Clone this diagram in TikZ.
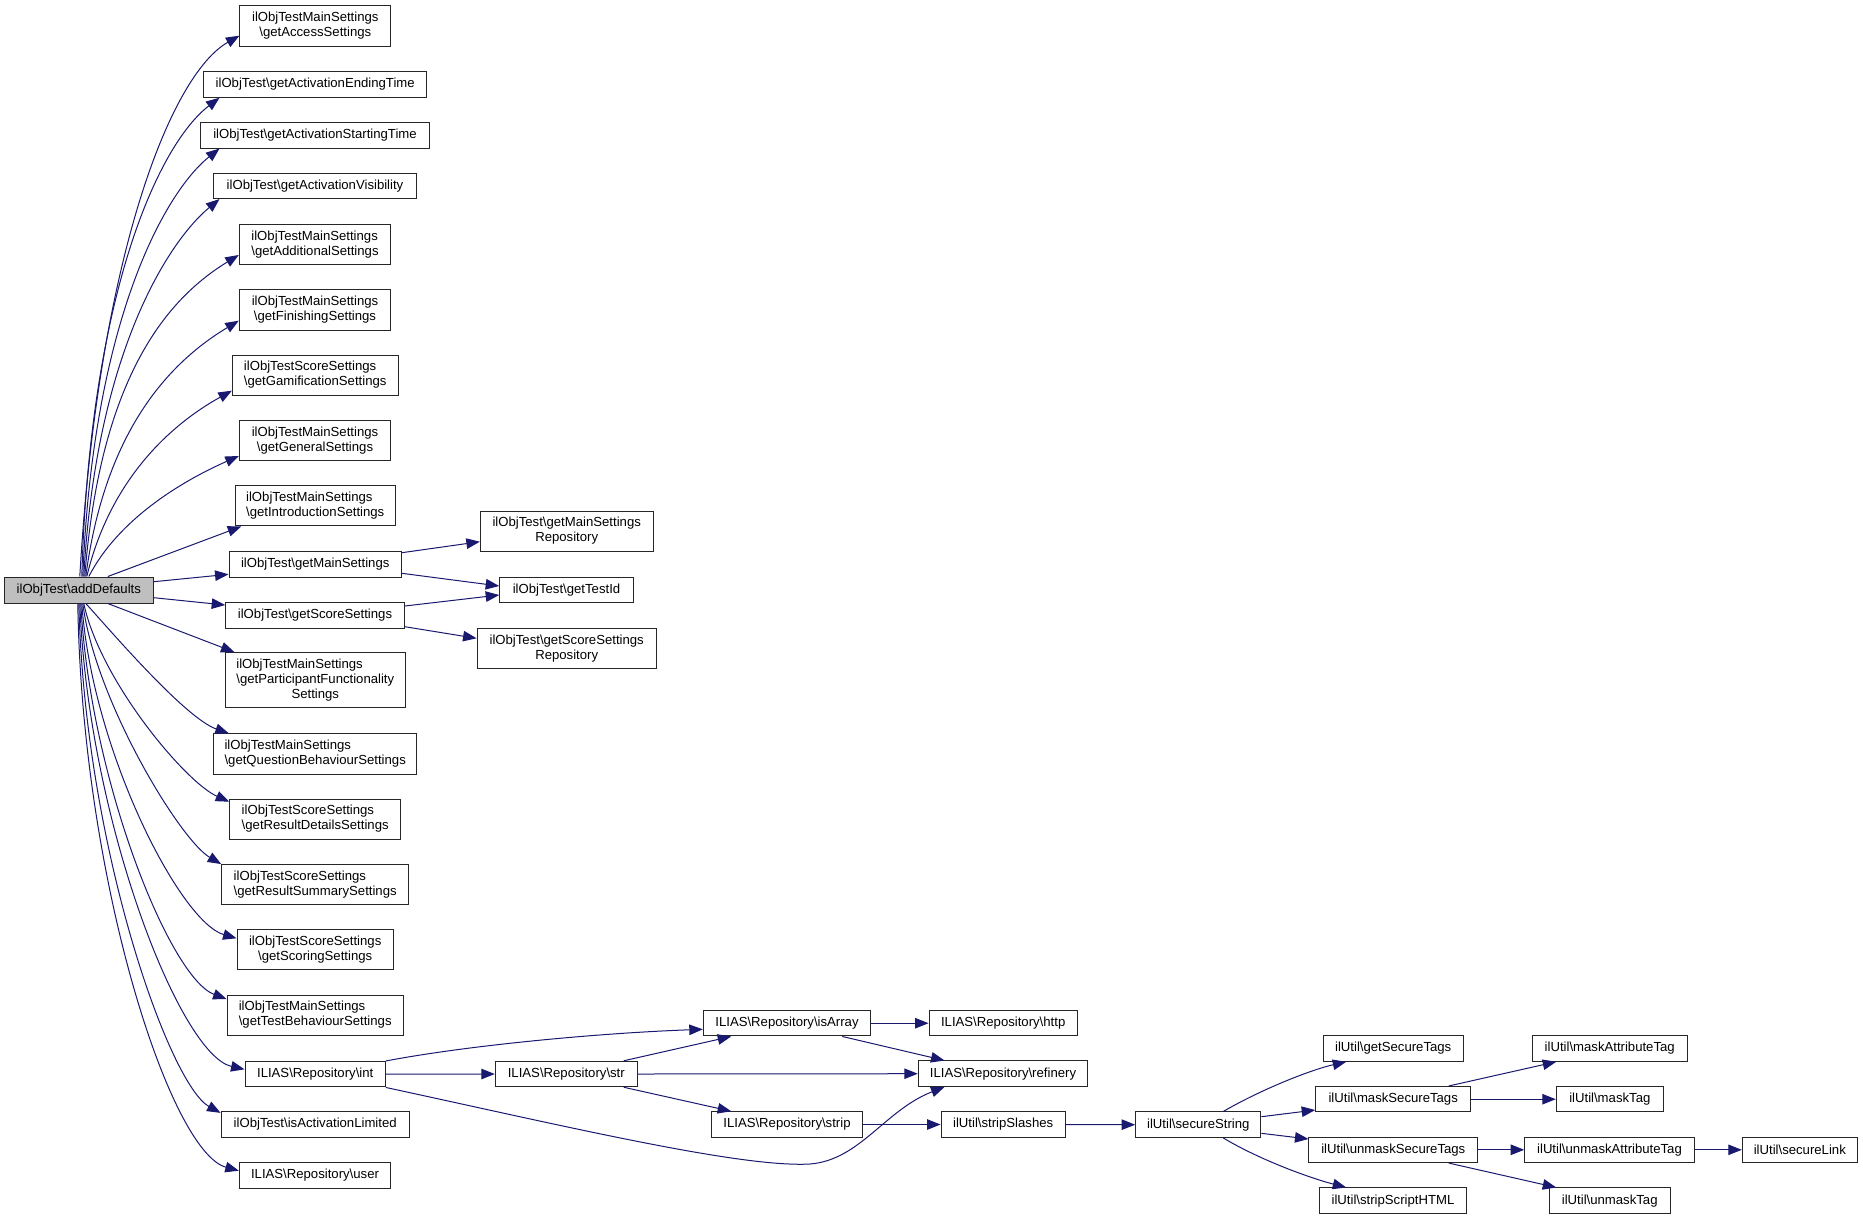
\documentclass[tikz,border=0pt]{standalone}
\usepackage{fontspec}
\setmainfont{Liberation Sans}
\usetikzlibrary{arrows.meta,calc}
\definecolor{mblue}{RGB}{25,25,112}
\definecolor{rootgray}{RGB}{191,191,191}
\newcommand{\bsl}{\textbackslash}
\newcommand{\fnt}{\fontsize{13.15}{15}\selectfont}
\newcommand{\lbltwo}[2]{\begin{tabular}{@{}l@{}}#1\\\multicolumn{1}{@{}c@{}}{#2}\end{tabular}}
\newcommand{\lblthree}[3]{\begin{tabular}{@{}l@{}}#1\\#2\\\multicolumn{1}{@{}c@{}}{#3}\end{tabular}}
\begin{document}
\begin{tikzpicture}[x=1pt,y=-1pt,
  box/.style={draw=black!85, line width=1pt, inner sep=0pt, fill=white, font=\fnt, minimum height=25.5},
  boxtwo/.style={box, minimum height=40.3},
  conn/.style={draw=mblue, line width=1pt, -{Triangle[length=13.5pt,width=10.5pt]}}]
\fill[white] (0,0) rectangle (1863,1219);
\useasboundingbox (0,0) rectangle (1863,1219);

% root
\node[box, fill=rootgray, minimum width=149, minimum height=26] (root) at (78.8,590) {ilObjTest\bsl addDefaults};

% column 1
\node[boxtwo, minimum width=150.7] (acc) at (315.3,26) {\lbltwo{ilObjTestMainSettings}{\bsl getAccessSettings}};
\node[box, minimum width=223] (endt) at (315.2,84.5) {ilObjTest\bsl getActivationEndingTime};
\node[box, minimum width=228.6] (start) at (315,135.3) {ilObjTest\bsl getActivationStartingTime};
\node[box, minimum width=203.4] (vis) at (315,185.8) {ilObjTest\bsl getActivationVisibility};
\node[boxtwo, minimum width=151.4] (add) at (315,244.7) {\lbltwo{ilObjTestMainSettings}{\bsl getAdditionalSettings}};
\node[boxtwo, minimum width=151.4] (fin) at (315,310) {\lbltwo{ilObjTestMainSettings}{\bsl getFinishingSettings}};
\node[boxtwo, minimum width=165.7] (gam) at (315.2,375.2) {\lbltwo{ilObjTestScoreSettings}{\bsl getGamificationSettings}};
\node[boxtwo, minimum width=151.4] (gen) at (315,440.5) {\lbltwo{ilObjTestMainSettings}{\bsl getGeneralSettings}};
\node[boxtwo, minimum width=160.3] (intro) at (315.2,505.8) {\lbltwo{ilObjTestMainSettings}{\bsl getIntroductionSettings}};
\node[box, minimum width=172.3] (mains) at (315.2,564.3) {ilObjTest\bsl getMainSettings};
\node[box, minimum width=178.6] (scores) at (315,615.5) {ilObjTest\bsl getScoreSettings};
\node[box, minimum width=180, minimum height=55.3] (part) at (315.3,680.3) {\lblthree{ilObjTestMainSettings}{\bsl getParticipantFunctionality}{Settings}};
\node[boxtwo, minimum width=203] (quest) at (315.2,754) {\lbltwo{ilObjTestMainSettings}{\bsl getQuestionBehaviourSettings}};
\node[boxtwo, minimum width=171] (rdet) at (315.2,819.3) {\lbltwo{ilObjTestScoreSettings}{\bsl getResultDetailsSettings}};
\node[boxtwo, minimum width=187] (rsum) at (315.2,884.7) {\lbltwo{ilObjTestScoreSettings}{\bsl getResultSummarySettings}};
\node[boxtwo, minimum width=156.3] (scor) at (315.2,949.8) {\lbltwo{ilObjTestScoreSettings}{\bsl getScoringSettings}};
\node[boxtwo, minimum width=176.3] (testb) at (315.2,1015.2) {\lbltwo{ilObjTestMainSettings}{\bsl getTestBehaviourSettings}};
\node[box, minimum width=140.3] (int) at (315.2,1074.2) {ILIAS\bsl Repository\bsl int};
\node[box, minimum width=188.3] (isal) at (315.2,1124.5) {ilObjTest\bsl isActivationLimited};
\node[box, minimum width=151.4] (user) at (315,1175.4) {ILIAS\bsl Repository\bsl user};

% column 2
\node[boxtwo, minimum width=172.7, minimum height=40] (msr) at (566.7,531) {\lbltwo{ilObjTest\bsl getMainSettings}{Repository}};
\node[box, minimum width=133.6] (tid) at (566.5,590) {ilObjTest\bsl getTestId};
\node[boxtwo, minimum width=179.3] (ssr) at (566.7,648.5) {\lbltwo{ilObjTest\bsl getScoreSettings}{Repository}};
\node[box, minimum width=142] (str) at (566.3,1074) {ILIAS\bsl Repository\bsl str};

% column 3
\node[box, minimum width=167.4] (isarr) at (787,1023.2) {ILIAS\bsl Repository\bsl isArray};
\node[box, minimum width=151.4] (strip) at (787,1124.5) {ILIAS\bsl Repository\bsl strip};

% column 4
\node[box, minimum width=148.3] (http) at (1003.2,1023.2) {ILIAS\bsl Repository\bsl http};
\node[box, minimum width=169.4] (ref) at (1003,1073.7) {ILIAS\bsl Repository\bsl refinery};
\node[box, minimum width=124.3] (sslash) at (1003.2,1124.5) {ilUtil\bsl stripSlashes};

% column 5
\node[box, minimum width=125.3] (sstr) at (1198.3,1124.7) {ilUtil\bsl secureString};

% column 6
\node[box, minimum width=140.3] (gst) at (1393.2,1048.5) {ilUtil\bsl getSecureTags};
\node[box, minimum width=155] (mst) at (1393.2,1099.2) {ilUtil\bsl maskSecureTags};
\node[box, minimum width=168.7] (umst) at (1393.3,1149.8) {ilUtil\bsl unmaskSecureTags};
\node[box, minimum width=147.4] (ssh) at (1393,1200.7) {ilUtil\bsl stripScriptHTML};

% column 7
\node[box, minimum width=155.3] (mat) at (1609.7,1048.5) {ilUtil\bsl maskAttributeTag};
\node[box, minimum width=107] (mtag) at (1609.8,1099.2) {ilUtil\bsl maskTag};
\node[box, minimum width=169.6] (umat) at (1609.5,1149.8) {ilUtil\bsl unmaskAttributeTag};
\node[box, minimum width=120.7] (umtag) at (1609.7,1200.7) {ilUtil\bsl unmaskTag};

% column 8
\node[box, minimum width=115] (slink) at (1799.8,1149.8) {ilUtil\bsl secureLink};

% edges from root (upwards)
\draw[conn] ([xshift=1]root.north) .. controls (98,260) and (170,75) .. ($(acc.west)+(0,9.7)$);
\draw[conn] ([xshift=3]root.north) .. controls (90,290) and (160,143) .. ($(endt.south west)+(16.3,0)$);
\draw[conn] ([xshift=4]root.north) .. controls (93,320) and (165,192) .. ($(start.south west)+(19.3,0)$);
\draw[conn] ([xshift=5]root.north) .. controls (96,350) and (170,240) .. ($(vis.south west)+(6.7,0)$);
\draw[conn] ([xshift=6]root.north) .. controls (100,380) and (165,300) .. ($(add.west)+(0,10.3)$);
\draw[conn] ([xshift=7]root.north) .. controls (105,430) and (170,362) .. ($(fin.west)+(0,10.7)$);
\draw[conn] ([xshift=8]root.north) .. controls (110,480) and (170,425) .. ($(gam.west)+(0,15.5)$);
\draw[conn] ([xshift=10]root.north) .. controls (118,520) and (180,482) .. ($(gen.west)+(0,15.5)$);
\draw[conn] ([xshift=29]root.north) -- ($(intro.south west)+(6.7,0)$);
\draw[conn] ($(root.east)+(0,-8.3)$) -- ($(mains.west)+(0,10)$);
\draw[conn] ($(root.east)+(0,7.7)$) -- ($(scores.west)+(0,-10.5)$);
% edges from root (downwards)
\draw[conn] ([xshift=29]root.south) -- ($(part.north west)+(9.7,0)$);
\draw[conn] ([xshift=7]root.south) .. controls (110,630) and (185,718) .. ($(quest.north west)+(15.6,0)$);
\draw[conn] ([xshift=5]root.south) .. controls (100,680) and (185,782) .. ($(rdet.west)+(0,-17.6)$);
\draw[conn] ([xshift=4]root.south) .. controls (95,700) and (180,840) .. (rsum.north west);
\draw[conn] ([xshift=3]root.south) .. controls (92,750) and (180,922) .. ($(scor.west)+(0,-11.5)$);
\draw[conn] ([xshift=2]root.south) .. controls (90,780) and (170,978) .. ($(testb.west)+(0,-16.2)$);
\draw[conn] ([xshift=1]root.south) .. controls (88,820) and (180,1055) .. ($(int.west)+(0,-4.9)$);
\draw[conn] (root.south) .. controls (85,850) and (170,1085) .. ($(isal.north west)+(0,1.6)$);
\draw[conn] ([xshift=-1]root.south) .. controls (82,880) and (170,1152) .. ($(user.west)+(0,-4.7)$);

% settings edges
\draw[conn] ($(mains.east)+(0,-11.6)$) -- ($(msr.west)+(0,10.7)$);
\draw[conn] ($(mains.east)+(0,9)$) -- ($(tid.west)+(0,-4)$);
\draw[conn] ($(scores.east)+(0,-9.5)$) -- ($(tid.west)+(0,5)$);
\draw[conn] ($(scores.east)+(0,11.2)$) -- ($(ssr.west)+(0,-10.2)$);

% repository edges
\draw[conn] (int.north east) .. controls (470,1045) and (600,1033) .. ($(isarr.west)+(0,6.1)$);
\draw[conn] (int.east) -- (str.west);
\draw[conn] (int.south east) .. controls (560,1125) and (740,1168) .. (810,1164) .. controls (860,1160) and (885,1110) .. ($(ref.south west)+(26.7,0)$);
\draw[conn] ($(str.north east)+(-14,0)$) -- ($(isarr.south west)+(28.4,0)$);
\draw[conn] (str.east) -- (ref.west);
\draw[conn] ($(str.south east)+(-14,0)$) -- ($(strip.north west)+(20.4,0)$);
\draw[conn] (isarr.east) -- (http.west);
\draw[conn] ($(isarr.south east)+(-29,0)$) -- ($(ref.north west)+(26.7,0)$);
\draw[conn] (strip.east) -- (sslash.west);
\draw[conn] (sslash.east) -- (sstr.west);

% ilUtil edges
\draw[conn] ($(sstr.north)+(25,0)$) .. controls (1260,1090) and (1310,1070) .. ($(gst.south west)+(23.7,0)$);
\draw[conn] ($(sstr.east)+(0,-8)$) -- ($(mst.west)+(0,10.8)$);
\draw[conn] ($(sstr.east)+(0,8.6)$) -- ($(umst.west)+(0,-10.8)$);
\draw[conn] ($(sstr.south)+(25,0)$) .. controls (1260,1160) and (1310,1178) .. ($(ssh.north west)+(27.4,0)$);
\draw[conn] ($(mst.north east)+(-22.4,0)$) -- ($(mat.south west)+(24.7,0)$);
\draw[conn] (mst.east) -- (mtag.west);
\draw[conn] (umst.east) -- (umat.west);
\draw[conn] ($(umst.south east)+(-29.4,0)$) -- ($(umtag.north west)+(7.4,0)$);
\draw[conn] (umat.east) -- (slink.west);
\end{tikzpicture}
\end{document}
